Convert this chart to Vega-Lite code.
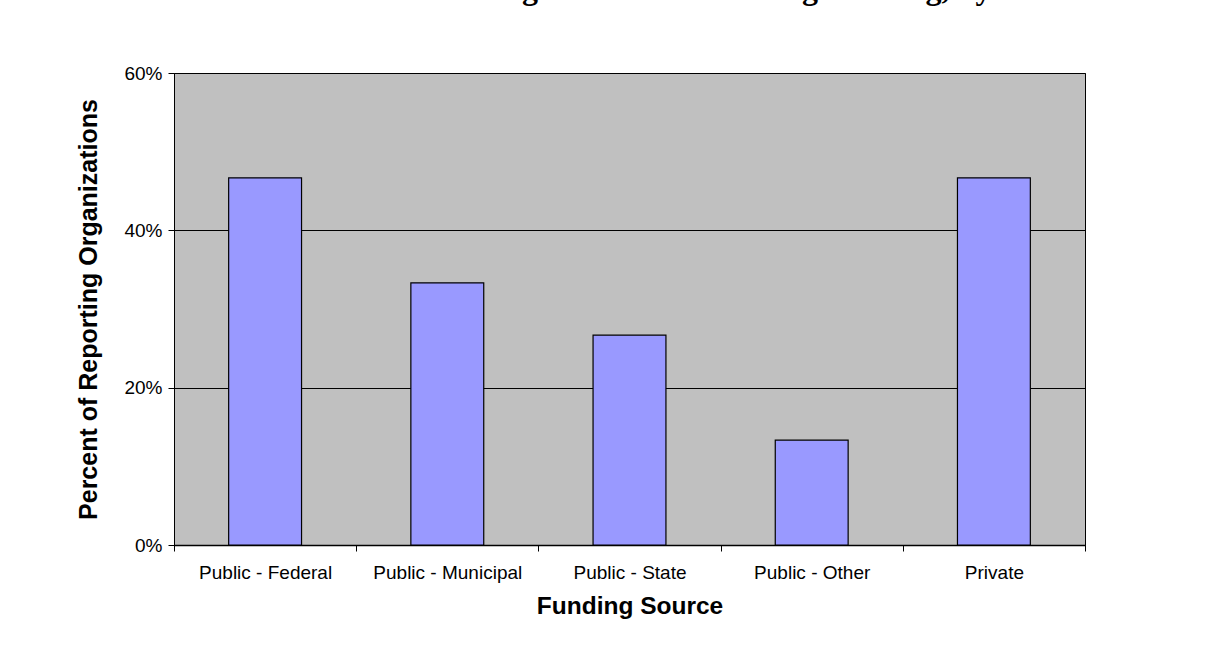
{
  "$schema": "https://vega.github.io/schema/vega-lite/v6.json",
  "autosize": "none",
  "padding": {"left": 174, "top": 73, "right": 143, "bottom": 107},
  "width": 911,
  "height": 472,
  "background": "white",
  "title": {
    "text": "Percent of Organizations Receiving Funding, by Source",
    "font": "Liberation Serif",
    "fontSize": 32,
    "fontWeight": "bold",
    "color": "black",
    "anchor": "start",
    "frame": "group",
    "baseline": "alphabetic",
    "offset": 55,
    "dx": 162,
    "dy": 22
  },
  "data": {
    "values": [
      {"source": "Public - Federal", "pct": 0.4667},
      {"source": "Public - Municipal", "pct": 0.3333},
      {"source": "Public - State", "pct": 0.2667},
      {"source": "Public - Other", "pct": 0.1333},
      {"source": "Private", "pct": 0.4667}
    ]
  },
  "mark": {"type": "bar", "color": "#9999FF", "stroke": "black", "strokeWidth": 1.2, "width": {"band": 0.4}},
  "encoding": {
    "x": {
      "field": "source",
      "type": "nominal",
      "sort": null,
      "title": "Funding Source",
      "scale": {"paddingInner": 0, "paddingOuter": 0},
      "axis": {
        "labelAngle": 0,
        "tickBand": "extent",
        "tickSize": 6,
        "tickColor": "black",
        "domainColor": "black",
        "domainWidth": 1.5,
        "labelPadding": 12,
        "titlePadding": 12,
        "titleFontSize": 24.5,
        "grid": false
      }
    },
    "y": {
      "field": "pct",
      "type": "quantitative",
      "title": "Percent of Reporting Organizations",
      "scale": {"domain": [0, 0.6]},
      "axis": {
        "values": [0, 0.2, 0.4, 0.6],
        "format": ".0%",
        "tickSize": 6,
        "tickColor": "black",
        "domainColor": "black",
        "grid": true,
        "gridColor": "black",
        "gridOpacity": 1,
        "gridWidth": 1,
        "labelPadding": 6,
        "titlePadding": 22,
        "titleFontSize": 25
      }
    }
  },
  "config": {
    "view": {"fill": "#C0C0C0", "stroke": "black", "strokeWidth": 1},
    "axis": {
      "labelFont": "Liberation Sans",
      "labelFontSize": 19,
      "labelColor": "black",
      "titleFont": "Liberation Sans",
      "titleFontSize": 24,
      "titleFontWeight": "bold",
      "titleColor": "black"
    }
  }
}
